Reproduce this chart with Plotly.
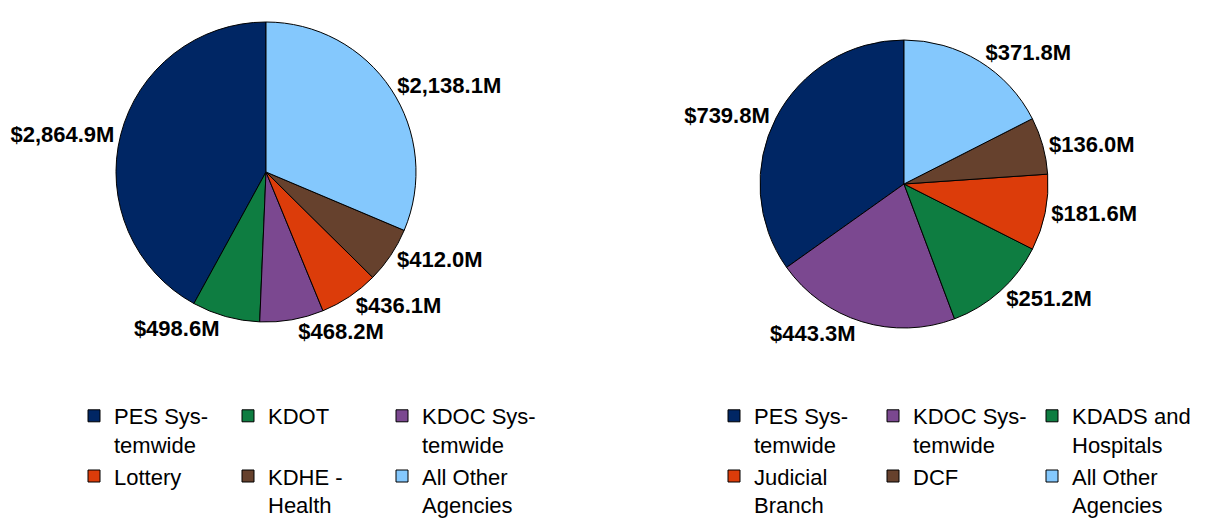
import plotly.graph_objects as go

# ---------------- data ----------------
labels_left = ["PES Sys-<br>temwide", "KDOT", "KDOC Sys-<br>temwide",
               "Lottery", "KDHE -<br>Health", "All Other<br>Agencies"]
values_left = [2864.9, 498.6, 468.2, 436.1, 412.0, 2138.1]
colors_left = ["#002664", "#0E7D41", "#7B4890", "#DC3C0A", "#66412D", "#84C8FD"]

labels_right = ["PES Sys-<br>temwide", "KDOC Sys-<br>temwide", "KDADS and<br>Hospitals",
                "Judicial<br>Branch", "DCF", "All Other<br>Agencies"]
values_right = [739.8, 443.3, 251.2, 181.6, 136.0, 371.8]
colors_right = ["#002664", "#7B4890", "#0E7D41", "#DC3C0A", "#66412D", "#84C8FD"]

# ---------------- layout helpers ----------------
OFF = 8                      # page body margin of the html output
W, H = 1222 - OFF, 524 - OFF
ML, MR, MT, MB = 90, 50, 0, 0
GW = W - ML - MR
GH = H - MT - MB


def dom(cx, cy, r):
    cx, cy = cx - OFF, cy - OFF
    x0 = (cx - r - ML) / GW
    x1 = (cx + r - ML) / GW
    y0 = 1 - (cy + r - MT) / GH
    y1 = 1 - (cy - r - MT) / GH
    return dict(x=[x0, x1], y=[y0, y1])


def start_rotation(vals):
    # make the first slice begin at 12 o'clock and run counterclockwise
    return -360.0 * vals[0] / sum(vals)


label_font = dict(family="Liberation Sans, Arial, sans-serif", size=22, color="#000000", weight="bold")
legend_font = dict(family="Liberation Sans, Arial, sans-serif", size=22, color="#000000")

fig = go.Figure()
fig.add_trace(go.Pie(
    labels=labels_left, values=values_left, sort=False, direction="counterclockwise",
    rotation=start_rotation(values_left),
    marker=dict(colors=colors_left, line=dict(color="#000000", width=1)),
    texttemplate="$%{value:,.1f}M", textposition="outside", textfont=label_font,
    domain=dom(266, 172, 150), legend="legend", legendgroup="a", hoverinfo="label+value",
))
fig.add_trace(go.Pie(
    labels=labels_right, values=values_right, sort=False, direction="counterclockwise",
    rotation=start_rotation(values_right),
    marker=dict(colors=colors_right, line=dict(color="#000000", width=1)),
    texttemplate="$%{value:,.1f}M", textposition="outside", textfont=label_font,
    domain=dom(904, 184, 144), legend="legend2", legendgroup="b", hoverinfo="label+value",
))

COL1 = 154
COL2 = 159
ROW_TOP = 395 - OFF

fig.update_layout(
    width=W, height=H,
    margin=dict(l=ML, r=MR, t=MT, b=MB, autoexpand=False),
    paper_bgcolor="#FFFFFF", plot_bgcolor="#FFFFFF",
    showlegend=True,
    legend=dict(orientation="h", x=(74 - OFF - ML) / GW, xanchor="left",
                y=1 - (ROW_TOP - MT) / GH, yanchor="top", valign="top",
                entrywidth=COL1 - 45, entrywidthmode="pixels", font=legend_font,
                bgcolor="rgba(0,0,0,0)", traceorder="normal"),
    legend2=dict(orientation="h", x=(714 - OFF + 3 * COL2 - ML) / GW, xanchor="right",
                 y=1 - (ROW_TOP - MT) / GH, yanchor="top", valign="top",
                 entrywidth=COL2 - 45, entrywidthmode="pixels", font=legend_font,
                 bgcolor="rgba(0,0,0,0)", traceorder="normal"),
)

fig.write_html("out.html")
